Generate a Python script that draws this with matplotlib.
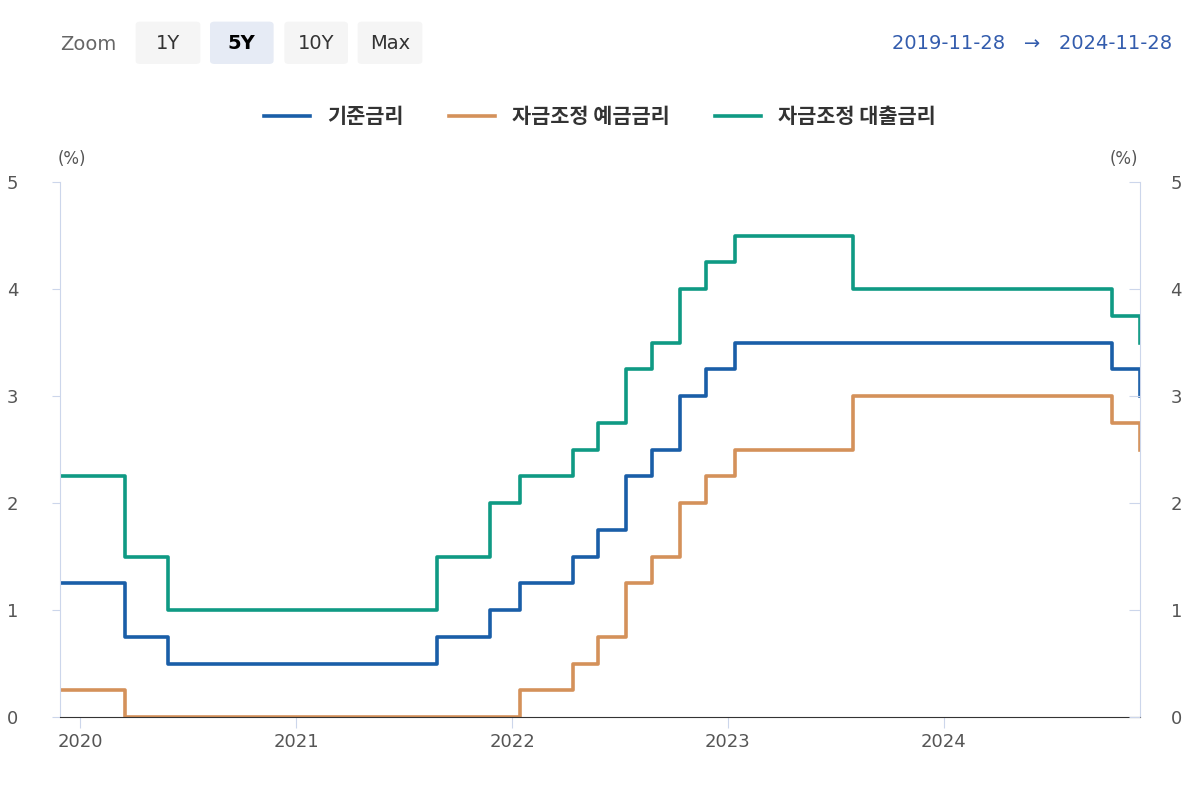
import matplotlib
matplotlib.use("Agg")
import matplotlib.pyplot as plt
import matplotlib.dates as mdates
from matplotlib import font_manager
from matplotlib.patches import FancyBboxPatch
import pandas as pd

cjk = [f.name for f in font_manager.fontManager.ttflist if "CJK" in f.name]
kr = [n for n in cjk if "KR" in n] or cjk
plt.rcParams["font.family"] = ["sans-serif"]
plt.rcParams["font.sans-serif"] = ["DejaVu Sans"] + kr[:1]
KFONT = kr[0] if kr else "DejaVu Sans"

start = "2019-11-28"
end = "2024-11-28"

# base rate (기준금리)
base_dates = ["2019-11-28", "2020-03-17", "2020-05-28", "2021-08-26", "2021-11-25",
              "2022-01-14", "2022-04-14", "2022-05-26", "2022-07-13", "2022-08-25",
              "2022-10-12", "2022-11-24", "2023-01-13", "2024-10-11", "2024-11-28"]
base_vals = [1.25, 0.75, 0.50, 0.75, 1.00, 1.25, 1.50, 1.75, 2.25, 2.50, 3.00, 3.25, 3.50, 3.25, 3.00]

# deposit facility (자금조정 예금금리)
dep_dates = ["2019-11-28", "2020-03-17", "2022-01-14", "2022-04-14", "2022-05-26",
             "2022-07-13", "2022-08-25", "2022-10-12", "2022-11-24", "2023-01-13",
             "2023-08-01", "2024-10-11", "2024-11-28"]
dep_vals = [0.25, 0.00, 0.25, 0.50, 0.75, 1.25, 1.50, 2.00, 2.25, 2.50, 3.00, 2.75, 2.50]

# lending facility (자금조정 대출금리)
lend_dates = ["2019-11-28", "2020-03-17", "2020-05-28", "2021-08-26", "2021-11-25",
              "2022-01-14", "2022-04-14", "2022-05-26", "2022-07-13", "2022-08-25",
              "2022-10-12", "2022-11-24", "2023-01-13", "2023-08-01", "2024-10-11", "2024-11-28"]
lend_vals = [2.25, 1.50, 1.00, 1.50, 2.00, 2.25, 2.50, 2.75, 3.25, 3.50, 4.00, 4.25, 4.50, 4.00, 3.75, 3.50]

series = [
    ("기준금리", base_dates, base_vals, "#1a5ea8"),
    ("자금조정 예금금리", dep_dates, dep_vals, "#d4915a"),
    ("자금조정 대출금리", lend_dates, lend_vals, "#0f9a84"),
]

fig = plt.figure(figsize=(12, 8), dpi=100)
ax = fig.add_axes([0.05, 0.10375, 0.9, 0.66875])

for name, d, v, c in series:
    ax.plot(pd.to_datetime(d), v, drawstyle="steps-post", color=c, lw=2.6, label=name)

ax.set_xlim(pd.Timestamp(start), pd.Timestamp(end))
ax.set_ylim(0, 5)
ax.set_yticks([0, 1, 2, 3, 4, 5])
ax.xaxis.set_major_locator(mdates.YearLocator())
ax.xaxis.set_major_formatter(mdates.DateFormatter("%Y"))
ax.tick_params(axis="x", colors="#ccd6eb", labelcolor="#555555", labelsize=13, length=8)
ax.tick_params(axis="y", colors="#ccd6eb", labelcolor="#555555", labelsize=13, length=6, pad=24)
ax.spines["top"].set_visible(False)
ax.spines["left"].set_color("#ccd6eb")
ax.spines["right"].set_color("#ccd6eb")
ax.spines["bottom"].set_color("#333333")

ax2 = ax.twinx()
ax2.set_ylim(0, 5)
ax2.set_yticks([0, 1, 2, 3, 4, 5])
ax2.tick_params(axis="y", colors="#ccd6eb", labelcolor="#555555", labelsize=13,
                direction="in", length=8, pad=22)
for s in ["top", "left", "bottom", "right"]:
    ax2.spines[s].set_visible(False)

fig.text(0.048, 0.795, "(%)", fontsize=12, color="#555555")
fig.text(0.925, 0.795, "(%)", fontsize=12, color="#555555")

leg = fig.legend(loc="center", bbox_to_anchor=(0.5, 0.854), ncol=3, frameon=False,
                 fontsize=14, handlelength=2.2, columnspacing=2.2,
                 prop={"family": KFONT, "weight": "bold", "size": 15})
for t in leg.get_texts():
    t.set_color("#333333")

# zoom buttons
fig.text(0.05, 0.945, "Zoom", fontsize=14, color="#666666", va="center")
buttons = [("1Y", 0.113, 0.054, "#f5f5f5", "#333333", "normal"),
           ("5Y", 0.175, 0.053, "#e6ebf5", "#000000", "bold"),
           ("10Y", 0.237, 0.053, "#f5f5f5", "#333333", "normal"),
           ("Max", 0.298, 0.054, "#f5f5f5", "#333333", "normal")]
for lab, x0, w, bg, fc, fw in buttons:
    fig.patches.append(FancyBboxPatch((x0, 0.92), w, 0.053, boxstyle="round,pad=0,rounding_size=0.004",
                                      transform=fig.transFigure, fc=bg, ec="none"))
    fig.text(x0 + w / 2, 0.946, lab, fontsize=14, color=fc, ha="center", va="center", fontweight=fw)

fig.text(0.977, 0.946, "2019-11-28   →   2024-11-28", fontsize=14, color="#335cad",
         ha="right", va="center")

fig.savefig("out.png", dpi=100)
